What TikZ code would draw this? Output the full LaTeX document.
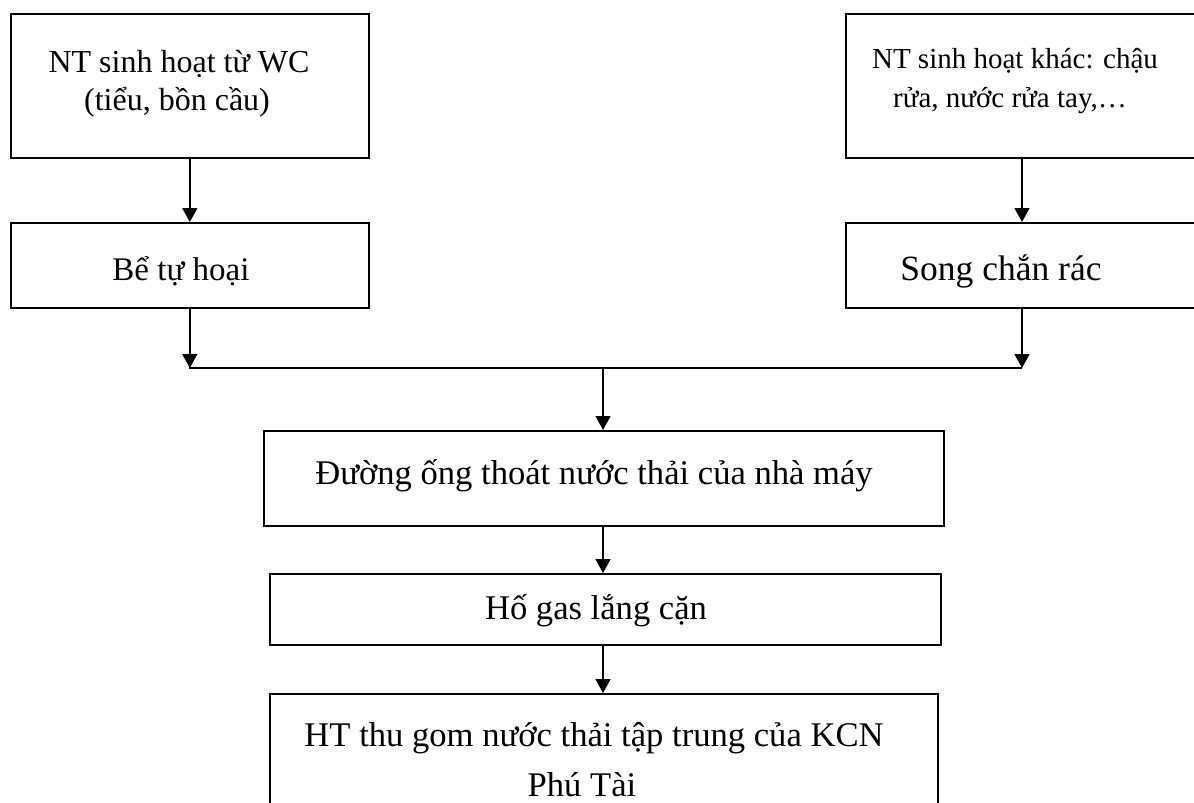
\documentclass[tikz,border=0pt]{standalone}
\usepackage{fontspec}
\setmainfont{Liberation Serif}
\usetikzlibrary{arrows.meta}
\begin{document}
\begin{tikzpicture}[x=1pt,y=-1pt,
  box/.style={draw=black,line width=1.6pt,rectangle,inner sep=0pt,anchor=north west},
  lbl/.style={anchor=base,inner sep=0pt,font=\fontsize{34.6}{40}\selectfont},
  lblmd/.style={lbl,font=\fontsize{33}{38}\selectfont},
  lblsm/.style={lbl,font=\fontsize{32}{38}\selectfont},
  lblxs/.style={lbl,font=\fontsize{29}{36}\selectfont},
  lbllg/.style={lbl,font=\fontsize{35.5}{40}\selectfont},
  flow/.style={line width=1.6pt,-{Triangle[length=14pt,width=15pt]}},
  collector/.style={line width=1.6pt}]
\clip (0,0) rectangle (1194,803);

% boxes
\node[box,minimum width=358pt,minimum height=144pt] (wc)   at (10,13)  {};
\node[box,minimum width=358pt,minimum height=85pt]  (tank) at (10,222) {};
\node[box,minimum width=360pt,minimum height=144pt] (misc) at (845,13)  {};
\node[box,minimum width=360pt,minimum height=85pt]  (grid) at (845,222) {};
\node[box,minimum width=680pt,minimum height=95pt]  (pipe) at (263,430) {};
\node[box,minimum width=671pt,minimum height=71pt]  (pit)  at (269,573) {};
\node[box,minimum width=668pt,minimum height=130pt] (kcn)  at (269,693) {};

% labels
\node[lblsm] (wc1) at (179,72)  {NT sinh hoạt từ WC};
\node[lblsm] (wc2) at (177,110) {(tiểu, bồn cầu)};
\node[lblxs] (mi1) at (1015,68) {NT sinh hoạt khác: chậu};
\node[lblxs] (mi2) at (1010,107) {rửa, nước rửa tay,…};
\node[lblmd] (tk)  at (181,280) {Bể tự hoại};
\node[lbllg] (gr)  at (1001,280) {Song chắn rác};
\node[lbl]   (pp)  at (594,484) {Đường ống thoát nước thải của nhà máy};
\node[lbl]   (pt)  at (596,619) {Hố gas lắng cặn};
\node[lbl]   (kc1) at (594,746) {HT thu gom nước thải tập trung của KCN};
\node[lbl]   (kc2) at (582,796) {Phú Tài};

% collector line
\coordinate (jl) at (189,368);
\coordinate (jr) at (1022,368);
\coordinate (jm) at (603,368);

% connectors
\draw[flow] (wc.south) -- (tank.north);
\draw[flow] (misc.south -| jr) -- (grid.north -| jr);
\draw[flow] (tank.south) -- (tank.south |- jl);
\draw[flow] (grid.south -| jr) -- (jr);
\draw[collector] (jl) -- (jr);
\draw[flow] (jm) -- (pipe.north -| jm);
\draw[flow] (pipe.south -| jm) -- (pit.north -| jm);
\draw[flow] (pit.south -| jm) -- (kcn.north -| jm);
\end{tikzpicture}
\end{document}
